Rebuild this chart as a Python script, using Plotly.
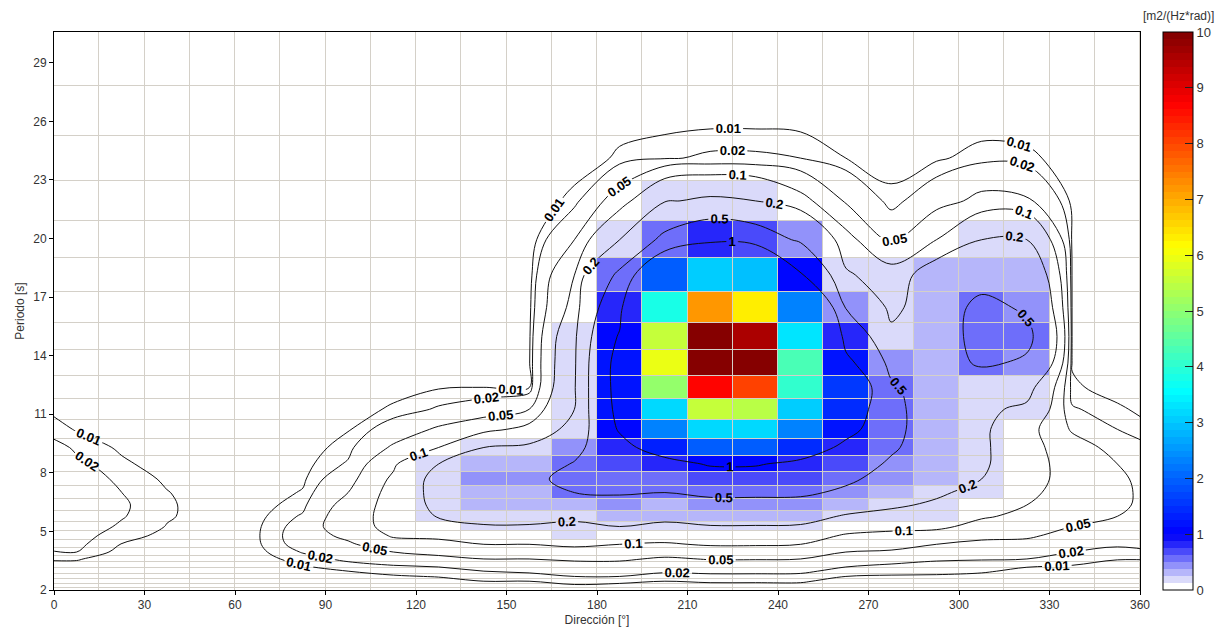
import numpy as np
import plotly.graph_objects as go

# Direction bins (deg) and period bin edges (s, longest to shortest)
direction_edges = list(range(0, 361, 15))
period_edges = [30.58, 27.80, 25.27, 22.97, 20.89, 18.99, 17.26, 15.69, 14.27,
                12.97, 11.79, 10.72, 9.74, 8.86, 8.05, 7.32, 6.66, 6.05, 5.50,
                5.00, 4.55, 4.13, 3.76, 3.42, 3.11, 2.82, 2.57, 2.33, 2.12, 1.93]
contour_levels = [0.01, 0.02, 0.05, 0.1, 0.2, 0.5, 1]
x_ticks = list(range(0, 361, 30))
y_ticks = list(range(2, 30, 3))
cbar_ticks = list(range(0, 11))

# Spectral density [m2/(Hz*rad)] per direction bin, listed from the longest
# period bin down to the shortest one
dens_000 = [0, 0, 0, 0, 0, 0, 0, 0, 0.001, 0.002, 0.004, 0.009, 0.017, 0.024, 0.028, 0.031, 0.032, 0.031, 0.028, 0.025, 0.023, 0.020, 0.011, 0.007, 0.004, 0.003, 0.002, 0.001, 0.001]
dens_015 = [0, 0, 0, 0, 0, 0, 0, 0, 0.001, 0.002, 0.003, 0.004, 0.008, 0.012, 0.017, 0.020, 0.022, 0.021, 0.018, 0.014, 0.0095, 0.006, 0.004, 0.003, 0.002, 0.002, 0.001, 0.001, 0.001]
dens_030 = [0, 0, 0, 0, 0, 0, 0, 0, 0, 0, 0.001, 0.002, 0.003, 0.005, 0.008, 0.0105, 0.0115, 0.011, 0.0095, 0.007, 0.005, 0.003, 0.002, 0.002, 0.001, 0.001, 0.001, 0.001, 0]
dens_045 = [0, 0, 0, 0, 0, 0, 0, 0, 0, 0, 0, 0, 0.001, 0.002, 0.003, 0.004, 0.005, 0.006, 0.006, 0.006, 0.005, 0.004, 0.003, 0.002, 0.002, 0.001, 0.001, 0.001, 0]
dens_060 = [0, 0, 0, 0, 0, 0, 0, 0, 0, 0, 0, 0, 0.001, 0.002, 0.003, 0.004, 0.005, 0.007, 0.0085, 0.009, 0.0085, 0.007, 0.005, 0.004, 0.003, 0.002, 0.001, 0.001, 0.001]
dens_075 = [0, 0, 0, 0, 0, 0, 0, 0, 0, 0, 0.001, 0.002, 0.004, 0.006, 0.008, 0.011, 0.016, 0.022, 0.027, 0.029, 0.027, 0.021, 0.015, 0.010, 0.007, 0.005, 0.003, 0.002, 0.002]
dens_090 = [0, 0, 0, 0, 0, 0, 0, 0, 0.001, 0.002, 0.004, 0.009, 0.015, 0.022, 0.035, 0.050, 0.065, 0.075, 0.078, 0.060, 0.043, 0.032, 0.023, 0.016, 0.010, 0.007, 0.005, 0.003, 0.002]
dens_105 = [0, 0, 0, 0, 0, 0, 0, 0.001, 0.002, 0.005, 0.012, 0.030, 0.055, 0.090, 0.110, 0.120, 0.122, 0.120, 0.115, 0.105, 0.080, 0.050, 0.035, 0.020, 0.013, 0.009, 0.006, 0.004, 0.003]
dens_120 = [0, 0, 0, 0, 0, 0, 0.001, 0.002, 0.004, 0.009, 0.022, 0.055, 0.100, 0.200, 0.240, 0.240, 0.230, 0.210, 0.120, 0.110, 0.085, 0.060, 0.040, 0.022, 0.015, 0.0105, 0.007, 0.005, 0.004]
dens_135 = [0, 0, 0, 0, 0, 0, 0.001, 0.002, 0.004, 0.010, 0.030, 0.080, 0.200, 0.300, 0.380, 0.350, 0.300, 0.240, 0.190, 0.120, 0.100, 0.070, 0.050, 0.030, 0.020, 0.014, 0.010, 0.007, 0.005]
dens_150 = [0, 0, 0, 0.001, 0.002, 0.004, 0.006, 0.007, 0.008, 0.009, 0.050, 0.120, 0.220, 0.330, 0.420, 0.350, 0.300, 0.240, 0.190, 0.120, 0.100, 0.080, 0.050, 0.035, 0.022, 0.016, 0.010, 0.007, 0.005]
dens_165 = [0, 0.001, 0.003, 0.014, 0.050, 0.100, 0.120, 0.160, 0.170, 0.180, 0.200, 0.240, 0.400, 0.520, 0.600, 0.500, 0.350, 0.220, 0.180, 0.150, 0.110, 0.080, 0.055, 0.040, 0.028, 0.020, 0.013, 0.009, 0.006]
dens_180 = [0, 0.004, 0.012, 0.070, 0.200, 0.560, 0.820, 1.05, 1.20, 1.20, 1.15, 1.05, 0.82, 0.70, 0.58, 0.52, 0.42, 0.30, 0.20, 0.12, 0.10, 0.075, 0.055, 0.040, 0.030, 0.020, 0.012, 0.008, 0.006]
dens_195 = [0, 0.002, 0.018, 0.19, 0.58, 1.9, 3.8, 5.6, 5.9, 5.0, 3.2, 2.3, 1.3, 0.80, 0.56, 0.50, 0.32, 0.25, 0.16, 0.12, 0.095, 0.065, 0.045, 0.030, 0.022, 0.015, 0.010, 0.007, 0.005]
dens_210 = [0, 0.002, 0.023, 0.22, 0.82, 3.1, 7.2, 9.95, 9.95, 8.7, 5.6, 3.2, 1.9, 1.05, 0.70, 0.55, 0.42, 0.28, 0.19, 0.12, 0.105, 0.075, 0.052, 0.035, 0.023, 0.017, 0.011, 0.008, 0.006]
dens_225 = [0, 0.002, 0.023, 0.20, 0.70, 2.9, 6.3, 9.6, 9.95, 8.1, 5.4, 3.2, 1.9, 1.05, 0.70, 0.55, 0.42, 0.28, 0.19, 0.12, 0.105, 0.075, 0.052, 0.035, 0.023, 0.017, 0.011, 0.008, 0.006]
dens_240 = [0, 0.002, 0.020, 0.12, 0.45, 1.05, 2.3, 3.3, 4.3, 4.0, 3.0, 2.3, 1.4, 0.85, 0.70, 0.55, 0.40, 0.28, 0.18, 0.12, 0.10, 0.072, 0.050, 0.034, 0.023, 0.016, 0.011, 0.008, 0.006]
dens_255 = [0, 0.002, 0.010, 0.045, 0.12, 0.22, 0.48, 0.80, 1.15, 1.6, 1.4, 1.2, 0.85, 0.70, 0.55, 0.45, 0.30, 0.18, 0.12, 0.095, 0.070, 0.050, 0.035, 0.022, 0.015, 0.010, 0.007, 0.005, 0.004]
dens_270 = [0, 0.001, 0.004, 0.014, 0.040, 0.127, 0.16, 0.24, 0.40, 0.55, 0.60, 0.60, 0.55, 0.45, 0.40, 0.30, 0.22, 0.16, 0.11, 0.09, 0.065, 0.045, 0.028, 0.018, 0.013, 0.009, 0.006, 0.004, 0.003]
dens_285 = [0, 0.001, 0.008, 0.035, 0.10, 0.28, 0.30, 0.32, 0.33, 0.30, 0.30, 0.30, 0.30, 0.35, 0.30, 0.22, 0.18, 0.14, 0.11, 0.08, 0.05, 0.035, 0.022, 0.016, 0.012, 0.009, 0.006, 0.004, 0.003]
dens_300 = [0, 0.001, 0.015, 0.060, 0.20, 0.35, 0.60, 0.62, 0.55, 0.24, 0.22, 0.22, 0.22, 0.22, 0.20, 0.16, 0.12, 0.105, 0.085, 0.06, 0.04, 0.03, 0.021, 0.015, 0.011, 0.008, 0.006, 0.004, 0.003]
dens_315 = [0, 0.001, 0.013, 0.055, 0.20, 0.35, 0.45, 0.58, 0.45, 0.24, 0.18, 0.12, 0.12, 0.115, 0.11, 0.105, 0.10, 0.09, 0.07, 0.055, 0.04, 0.028, 0.02, 0.011, 0.008, 0.006, 0.004, 0.003, 0.002]
dens_330 = [0, 0.001, 0.004, 0.007, 0.008, 0.009, 0.009, 0.009, 0.009, 0.012, 0.022, 0.045, 0.07, 0.085, 0.09, 0.09, 0.08, 0.065, 0.05, 0.038, 0.028, 0.02, 0.014, 0.01, 0.007, 0.005, 0.004, 0.003, 0.002]
dens_345 = [0, 0, 0, 0, 0, 0, 0, 0, 0.002, 0.005, 0.012, 0.020, 0.036, 0.050, 0.058, 0.060, 0.058, 0.050, 0.040, 0.030, 0.022, 0.016, 0.0105, 0.007, 0.005, 0.004, 0.003, 0.002, 0.001]

density_by_direction = [dens_000, dens_015, dens_030, dens_045, dens_060, dens_075,
                        dens_090, dens_105, dens_120, dens_135, dens_150, dens_165,
                        dens_180, dens_195, dens_210, dens_225, dens_240, dens_255,
                        dens_270, dens_285, dens_300, dens_315, dens_330, dens_345]

# grid: rows = period bins (long -> short), columns = direction bins
Z = np.array(density_by_direction, dtype=float).T

# ---- stepped colour scale: 8 steps per unit from 0 to 10 ----
lavender = [(255, 255, 255), (218, 218, 250), (182, 182, 250), (146, 146, 250),
            (110, 110, 250), (74, 74, 250), (38, 38, 250), (12, 12, 248)]


def jet_above_one(v):
    t = 0.125 + 0.875 * (v - 1.0) / 9.0
    r = min(max(1.5 - abs(4 * t - 3), 0), 1)
    g = min(max(1.5 - abs(4 * t - 2), 0), 1)
    b = min(max(1.5 - abs(4 * t - 1), 0), 1)
    return (round(255 * r), round(255 * g), round(255 * b))


n_steps = 80
colorscale = []
for i in range(n_steps):
    centre = (i + 0.5) * 10.0 / n_steps
    c = lavender[i] if i < 8 else jet_above_one(centre)
    col = "rgb(%d,%d,%d)" % c
    colorscale.append([i / n_steps, col])
    colorscale.append([(i + 1) / n_steps, col])

fig = go.Figure()

# cell colours (ascending period for the heatmap bin edges)
fig.add_trace(go.Heatmap(
    x=direction_edges,
    y=period_edges[::-1],
    z=Z[::-1],
    zmin=0, zmax=10,
    colorscale=colorscale,
    xgap=1, ygap=1,
    hoverinfo="skip",
    colorbar=dict(
        x=(1163 - 54) / 1086, xanchor="left", xpad=0,
        y=0.5, yanchor="middle", len=1.0, lenmode="fraction", ypad=0,
        thickness=30, thicknessmode="pixels",
        outlinecolor="black", outlinewidth=1,
        tickvals=cbar_ticks, ticks="inside", ticklen=8, tickcolor="#222",
        tickfont=dict(size=13, color="#333"),
    ),
))

# contour lines on bin centres, wrapped around 0/360 deg
dir_centres = [(a + b) / 2 for a, b in zip(direction_edges[:-1], direction_edges[1:])]
per_centres = [(a + b) / 2 for a, b in zip(period_edges[:-1], period_edges[1:])]
x_wrap = [dir_centres[-1] - 360] + dir_centres + [dir_centres[0] + 360]
z_wrap = np.hstack([Z[:, -1:], Z, Z[:, :1]])

# one trace per level; the level list is padded with steps beyond the data
# range (they draw nothing) so that each line carries several labels
label_pad_steps = 60
pad_step = 20.0
for lv in contour_levels:
    fig.add_trace(go.Contour(
        x=x_wrap,
        y=per_centres[::-1],
        z=z_wrap[::-1],
        autocontour=False,
        contours=dict(start=lv, end=lv + pad_step * label_pad_steps, size=pad_step,
                      coloring="none", showlabels=True, labelformat=".2~f",
                      labelfont=dict(size=13, color="black",
                                     family="Liberation Sans, Arial, sans-serif",
                                     weight="bold")),
        line=dict(color="#111", width=1),
        showscale=False,
        hoverinfo="skip",
    ))

fig.add_annotation(
    text="[m2/(Hz*rad)]", xref="paper", yref="paper",
    x=(1178 - 54) / 1086, y=1 + 16 / 560, xanchor="center", yanchor="middle",
    showarrow=False, font=dict(size=12, color="#333"),
)

fig.update_layout(
    width=1232, height=637,
    margin=dict(l=54, r=92, t=32, b=45),
    paper_bgcolor="white",
    plot_bgcolor="#D4D0C8",
    font=dict(family="Liberation Sans, Arial, sans-serif", size=12, color="#333"),
    showlegend=False,
)
fig.update_xaxes(
    range=[0, 360], tickvals=x_ticks, ticks="outside", ticklen=4,
    tickcolor="black", showgrid=False, zeroline=False,
    showline=True, linecolor="black", linewidth=1, mirror=True,
    title=dict(text="Dirección [°]", standoff=4, font=dict(size=12)),
)
fig.update_yaxes(
    range=[2, 30.58], tickvals=y_ticks, ticks="outside", ticklen=4,
    tickcolor="black", showgrid=False, zeroline=False,
    showline=True, linecolor="black", linewidth=1, mirror=True,
    title=dict(text="Periodo [s]", standoff=6, font=dict(size=12)),
)

fig.write_html("out.html")
